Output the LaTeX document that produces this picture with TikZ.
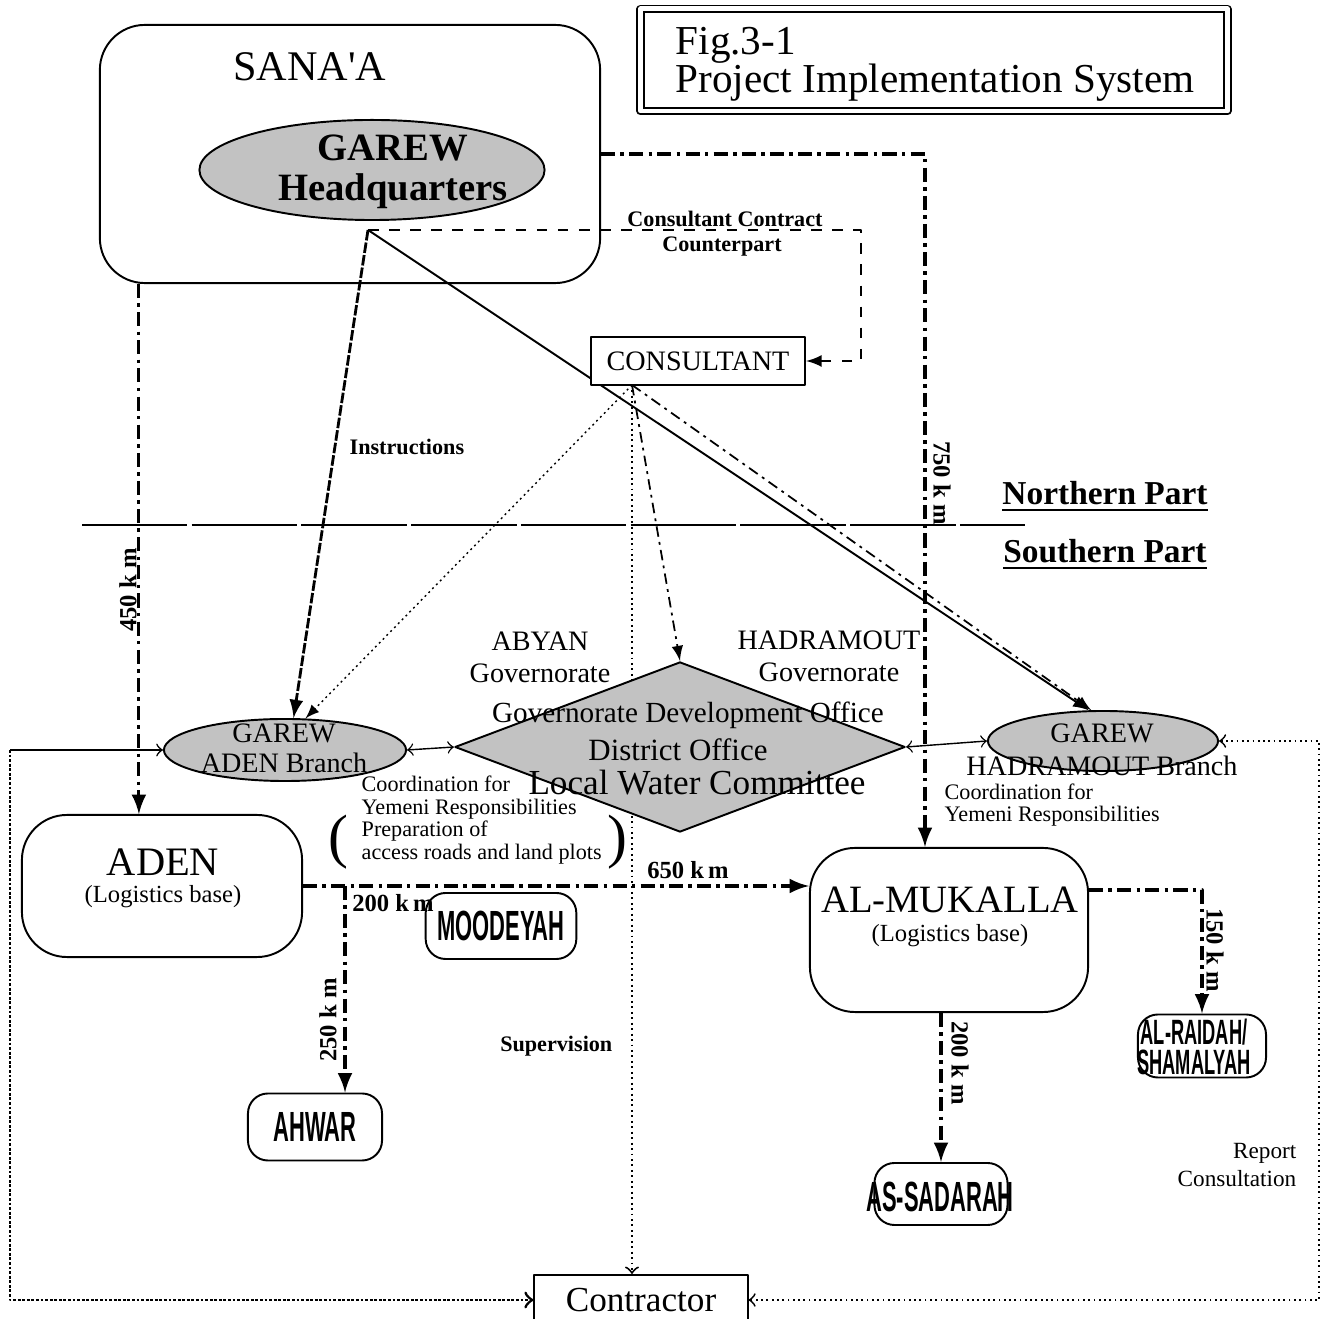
\documentclass[tikz,border=0pt]{standalone}
\usepackage{fontspec}
\setmainfont{Liberation Serif}
\setsansfont{Liberation Sans}
\newfontfamily\plainserif{Liberation Serif}
\usetikzlibrary{shapes.geometric,arrows,backgrounds,calc}
\newcommand\fsz[2]{\fontsize{#1}{#2}\selectfont}
\newcommand\slim[1]{\scalebox{0.52}[1]{#1}}
\tikzset{
  every path/.style={line width=0.55pt,line join=round},
  citybox/.style={draw,rounded corners=0.45cm,fill=white},
  sitebox/.style={draw,rounded corners=0.2cm,fill=white,font=\sffamily\bfseries\fsz{12}{12}},
  office/.style={draw,ellipse,fill=black!24},
  route/.style={line width=0.9pt,dash pattern=on 4pt off 1.5pt on 1pt off 1.5pt,-latex},
  thinroute/.style={line width=0.5pt,dash pattern=on 3pt off 1.5pt on 0.8pt off 1.5pt,-latex},
  instr/.style={line width=0.8pt,dash pattern=on 3pt off 0.6pt,-latex},
  leftloop/.style={->,>=to,line width=0.8pt,dash pattern=on 0.8pt off 0.5pt},
  rightloop/.style={<->,>=to,line width=0.5pt,densely dotted},
  divider/.style={line width=0.45pt,dash pattern=on 30pt off 1.2pt},
  dist/.style={font=\bfseries\fsz{7}{7}},
  tag/.style={font=\bfseries\fsz{6.3}{6.3}},
  note/.style={font=\fsz{6.3}{6.4}},
}
\begin{document}
\begin{tikzpicture}[x=0.01cm,y=-0.01cm]
\useasboundingbox (0,0) rectangle (1323,1319);

% Sana'a and headquarters
\node[citybox,fill=none,minimum width=5cm,minimum height=2.58cm] (sanaa) at (350,154) {};
\node[font=\plainserif\fsz{12}{12}] (sanaatxt) at (310,67) {SANA'A};
\node[office,minimum width=3.45cm,minimum height=1cm] (hq) at (372,170) {};
\node[font=\bfseries\fsz{11}{11.4},align=center] (hqtxt) at (393,172) {GAREW\\Headquarters};

\node[draw,double,double distance=1.4pt,minimum width=5.86cm,minimum height=1.02cm] (titlebox) at (934,60) {};
\node[anchor=west,align=left,font=\fsz{11.7}{10.8}] (titletxt) at (663,64) {Fig.3-1\\Project Implementation System};

\node[draw,fill=white,minimum width=2.14cm,minimum height=0.48cm,font=\fsz{8}{8}] (cons) at (698,361) {CONSULTANT};
\coordinate (hqfoot) at (368,230);
\coordinate (consfoot) at (632,385);
\node[tag] (cctxt) at (725,219) {Consultant Contract};
\node[tag] (cptxt) at (722,247) {Counterpart};
\node[tag,anchor=west] (instrtxt) at (337,447) {Instructions};

% north / south
\coordinate (divL) at (82,525);
\coordinate (divR) at (1025,525);
\node[font=\bfseries\fsz{9.5}{9.5}] (north) at (1105,497) {\underline{Northern Part}};
\node[font=\bfseries\fsz{9.5}{9.5}] (south) at (1105,555) {\underline{Southern Part}};

% branches and governorate
\node[office,minimum width=2.42cm,minimum height=0.62cm] (adenbr) at (285,750) {};
\node[font=\fsz{8}{8.5},align=center] (adenbrtxt) at (284,748) {GAREW\\ADEN Branch};
\node[office,diamond,minimum width=4.5cm,minimum height=1.7cm] (gdo) at (680,747) {};
\node[font=\fsz{8.3}{8.3}] (gdotxt1) at (688,715) {Governorate Development Office};
\node[font=\fsz{8.8}{8.8}] (gdotxt2) at (678,750) {District Office};
\node[font=\fsz{10}{10}] (gdotxt3) at (697,783) {Local Water Committee};
\node[font=\fsz{8}{9.1},align=center] (abyan) at (540,657) {ABYAN\\Governorate};
\node[font=\fsz{8}{9.1},align=center] (hadgov) at (829,656) {HADRAMOUT\\Governorate};
\node[office,minimum width=2.3cm,minimum height=0.6cm] (hadbr) at (1103,741) {};
\node[font=\fsz{8}{9.4},align=center] (hadbrtxt) at (1102,750) {GAREW\\HADRAMOUT Branch};

\node[note,anchor=west,align=left] (coordA) at (349,820) {Coordination for\\Yemeni Responsibilities\\Preparation of\\access roads and land plots};
\node[font=\fsz{17}{17}] (lpar) at (338,842) {(};
\node[font=\fsz{17}{17}] (rpar) at (617,842) {)};
\node[note,anchor=west,align=left] (coordB) at (932,805) {Coordination for\\Yemeni Responsibilities};

% logistics bases and sites
\node[citybox,minimum width=2.8cm,minimum height=1.42cm] (aden) at (162,886) {};
\node[font=\fsz{11.5}{11.5}] (adentxt) at (163,862) {ADEN};
\node[font=\fsz{7}{7}] (adensub) at (163,897) {(Logistics base)};
\node[citybox,minimum width=2.78cm,minimum height=1.64cm] (mukalla) at (949,930) {};
\node[font=\fsz{11}{11}] (mukallatxt) at (950,900) {AL-MUKALLA};
\node[font=\fsz{7}{7}] (mukallasub) at (950,936) {(Logistics base)};

\node[sitebox,minimum width=1.33cm,minimum height=0.66cm] (moodeyah) at (501,926) {\slim{MOODEYAH}};
\node[sitebox,minimum width=1.34cm,minimum height=0.67cm] (ahwar) at (315,1127) {\slim{AHWAR}};
\node[sitebox,minimum width=1.33cm,minimum height=0.62cm] (sadarah) at (941,1194) {};
\node[font=\sffamily\bfseries\fsz{12}{12}] (sadarahtxt) at (940,1197) {\slim{AS-SADARAH}};
\node[sitebox,minimum width=1.28cm,minimum height=0.63cm] (raidah) at (1202,1046) {};
\node[font=\sffamily\bfseries\fsz{10}{8.6},align=center] (raidahtxt) at (1194,1047) {\slim{AL-RAIDAH/}\\\slim{SHAMALYAH}};

\node[draw,fill=white,minimum width=2.13cm,minimum height=0.5cm,font=\fsz{10}{10}] (contr) at (641,1300) {Contractor};

% distances and notes
\node[dist,rotate=-90] (km750) at (942,483) {750 k m};
\node[dist,rotate=90] (km450) at (128,590) {450 k m};
\node[dist,rotate=90] (km250) at (328,1020) {250 k m};
\node[dist,rotate=-90] (km200b) at (960,1063) {200 k m};
\node[dist,rotate=-90] (km150) at (1215,950) {150 k m};
\node[dist] (km650) at (688,870) {650 k\,m};
\node[dist] (km200a) at (393,903) {200 k\,m};
\node[tag,anchor=east] (supervtxt) at (625,1046) {Supervision};
\node[note,anchor=east,align=right,font=\fsz{6.6}{8}] (reporttxt) at (1309,1165) {Report\\Consultation};

\begin{scope}[on background layer]
\draw[route] (sanaa.east) -| ([xshift=-0.24cm]mukalla.north);
\draw[route] ([xshift=0.4cm]sanaa.south west) -- ([xshift=0.4cm]sanaa.south west |- aden.north);
\draw[dashed,-latex] (hqfoot) -| ([xshift=0.55cm]cons.east) -- (cons.east);
\draw[instr] (hqfoot) -- (adenbr.75);
\draw[-latex] (hqfoot) -- (hadbr.115);
\draw[densely dotted,line width=0.4pt,-latex] (consfoot) -- (adenbr.57);
\draw[densely dotted,-to] (consfoot) -- (consfoot |- contr.north);
\draw[thinroute] (consfoot) -- (gdo.north);
\draw[thinroute] (consfoot) -- (hadbr.111);
\draw[<->,>=to,line width=0.4pt] (adenbr.east) -- (gdo.west);
\draw[<->,>=to,line width=0.4pt] (gdo.east) -- (hadbr.west);
\draw[route] (aden.east) -- (aden.east -| mukalla.west);
\draw[route] ([xshift=0.3cm]ahwar.north |- aden.east) -- ([xshift=0.3cm]ahwar.north);
\draw[route] (mukalla.south -| sadarah.north) -- (sadarah.north);
\draw[route] ([yshift=0.4cm]mukalla.east) -| (raidah.north);
\draw[<-,>=to,line width=0.45pt] (adenbr.west) -- ++(-153,0) coordinate (loopcorner);
\draw[leftloop] (loopcorner) |- (contr.west);
\draw[rightloop] (hadbr.east) -- ++(100,0) |- (contr.east);
\draw[divider] (divL) -- (divR);
\end{scope}
\end{tikzpicture}
\end{document}
